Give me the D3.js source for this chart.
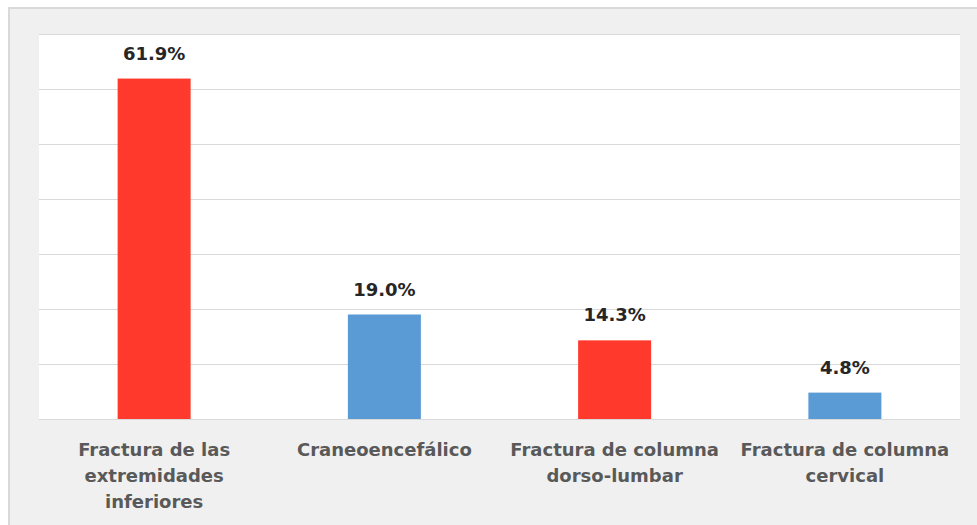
<!DOCTYPE html>
<html>
<head>
<meta charset="utf-8">
<script src="https://cdn.jsdelivr.net/npm/d3@7"></script>
<style>
  body { margin: 0; background: #fff; }
  svg { display: block; }
</style>
</head>
<body>
<script>
var categories = ['Fractura de las extremidades inferiores', 'Craneoencefálico', 'Fractura de columna dorso-lumbar', 'Fractura de columna cervical']
var labelLines = [['Fractura de las', 'extremidades', 'inferiores'], ['Craneoencefálico'], ['Fractura de columna', 'dorso-lumbar'], ['Fractura de columna', 'cervical']]
var values = [0.619, 0.190, 0.143, 0.048]
var barColors = ['#ff3a2d', '#5b9bd5', '#ff3a2d', '#5b9bd5']
var gridTicks = [0, 0.1, 0.2, 0.3, 0.4, 0.5, 0.6, 0.7]

var W = 977, H = 525
var margin = { top: 34, left: 39, right: 17, bottom: 106 }
var width = W - margin.left - margin.right,
    height = H - margin.top - margin.bottom

var svg = d3.select('body').append('svg')
    .attr('width', W)
    .attr('height', H)

// frame
svg.append('rect').attr('x', 0).attr('y', 0).attr('width', W).attr('height', H).attr('fill', '#fff')
svg.append('rect').attr('x', 8).attr('y', 7).attr('width', W - 8).attr('height', H - 7).attr('fill', '#d9d9d9')
svg.append('rect').attr('x', 10).attr('y', 9).attr('width', W - 10).attr('height', H - 9).attr('fill', '#f0f0f0')

var g = svg.append('g').attr('transform', 'translate(' + margin.left + ',' + margin.top + ')')

g.append('rect').attr('width', width).attr('height', height).attr('fill', '#fff')

var x = d3.scaleBand()
    .domain(categories)
    .range([0, width])
    .paddingInner(0.683)
    .paddingOuter(0.3415)

var y = d3.scaleLinear()
    .domain([0, 0.7])
    .range([height, 0])

g.selectAll('line.grid')
    .data(gridTicks)
    .enter().append('line')
    .attr('class', 'grid')
    .attr('x1', 0).attr('x2', width)
    .attr('y1', function (d) { return Math.round(y(d)) + 0.5 })
    .attr('y2', function (d) { return Math.round(y(d)) + 0.5 })
    .attr('stroke', '#d9d9d9')
    .attr('stroke-width', 1)

g.selectAll('rect.bar')
    .data(values)
    .enter().append('rect')
    .attr('class', 'bar')
    .attr('x', function (d, i) { return x(categories[i]) })
    .attr('width', x.bandwidth())
    .attr('y', function (d) { return y(d) })
    .attr('height', function (d) { return height - y(d) })
    .attr('fill', function (d, i) { return barColors[i] })

g.selectAll('text.val')
    .data(values)
    .enter().append('text')
    .attr('class', 'val')
    .attr('x', function (d, i) { return x(categories[i]) + x.bandwidth() / 2 })
    .attr('y', function (d) { return y(d) - 19 })
    .attr('text-anchor', 'middle')
    .attr('font-family', 'DejaVu Sans, Verdana, sans-serif')
    .attr('font-weight', 'bold')
    .attr('font-size', '18px')
    .attr('fill', '#262626')
    .text(function (d) { return (d * 100).toFixed(1) + '%' })

var cat = g.selectAll('text.cat')
    .data(labelLines)
    .enter().append('text')
    .attr('class', 'cat')
    .attr('text-anchor', 'middle')
    .attr('font-family', 'DejaVu Sans, Verdana, sans-serif')
    .attr('font-weight', 'bold')
    .attr('font-size', '18px')
    .attr('fill', '#595959')

cat.each(function (lines, i) {
    var t = d3.select(this)
    var cx = x(categories[i]) + x.bandwidth() / 2
    lines.forEach(function (line, j) {
        t.append('tspan')
            .attr('x', cx)
            .attr('y', height + 37 + j * 26)
            .text(line)
    })
})
</script>
</body>
</html>
